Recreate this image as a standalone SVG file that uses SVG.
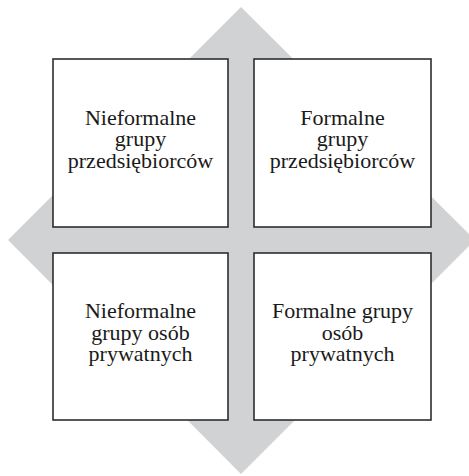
<svg xmlns="http://www.w3.org/2000/svg" width="469" height="476" viewBox="0 0 469 476">
  <style>
    .box { fill: #ffffff; stroke: #2e2e2e; stroke-width: 1.6; }
    .label { font-family: "Liberation Serif", "Times New Roman", serif; font-size: 22px; fill: #1a1a1a; text-anchor: middle; }
  </style>
  <!-- grey diamond behind the four quadrants -->
  <polygon points="241,7 475,240 241,474 8,240" fill="#d1d2d3"/>
  <g id="connectors"></g>
  <g id="node-nieformalne-przedsiebiorcy">
    <rect class="box" x="53" y="59" width="175" height="168"/>
    <text class="label" x="140.5" y="124.5">Nieformalne</text>
    <text class="label" x="140.5" y="146">grupy</text>
    <text class="label" x="140.5" y="167.5">przedsiębiorców</text>
  </g>
  <g id="node-formalne-przedsiebiorcy">
    <rect class="box" x="254" y="59" width="177" height="168"/>
    <text class="label" x="342.5" y="124.5">Formalne</text>
    <text class="label" x="342.5" y="146">grupy</text>
    <text class="label" x="342.5" y="167.5">przedsiębiorców</text>
  </g>
  <g id="node-nieformalne-prywatne">
    <rect class="box" x="53" y="253" width="175" height="167"/>
    <text class="label" x="140.5" y="318">Nieformalne</text>
    <text class="label" x="140.5" y="339.5">grupy osób</text>
    <text class="label" x="140.5" y="361">prywatnych</text>
  </g>
  <g id="node-formalne-prywatne">
    <rect class="box" x="254" y="253" width="177" height="167"/>
    <text class="label" x="342.5" y="318">Formalne grupy</text>
    <text class="label" x="342.5" y="339.5">osób</text>
    <text class="label" x="342.5" y="361">prywatnych</text>
  </g>
</svg>
